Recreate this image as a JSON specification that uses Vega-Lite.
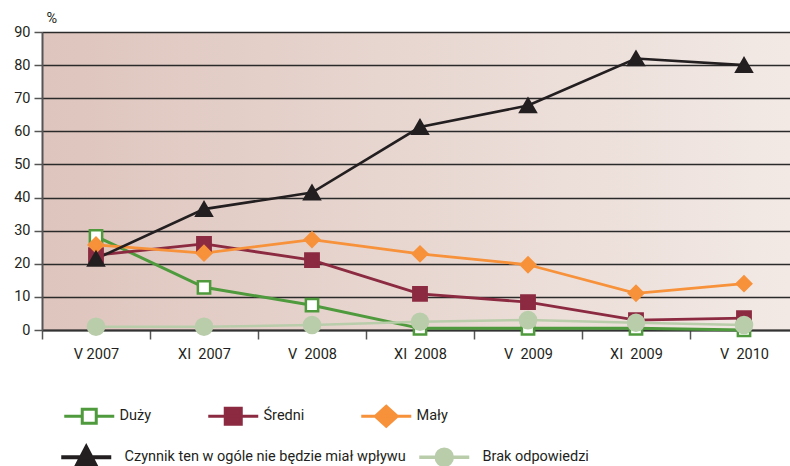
{
  "$schema": "https://vega.github.io/schema/vega-lite/v6.json",
  "width": 748,
  "height": 298,
  "autosize": {"type": "none"},
  "padding": {"left": 42, "top": 32, "right": 0, "bottom": 136},
  "background": "white",
  "config": {
    "font": "Roboto",
    "view": {
      "stroke": null,
      "fill": {"gradient": "linear", "x1": 0, "y1": 0, "x2": 1, "y2": 0,
        "stops": [{"offset": 0, "color": "#dec5bd"}, {"offset": 1, "color": "#f2e9e5"}]}
    },
    "axis": {"labelFont": "Roboto", "labelFontSize": 14.5, "labelColor": "#231f20", "titleFont": "Roboto"},
    "legend": {"labelFont": "Roboto"}
  },
  "data": {"values": [
    {"period": "V 2007", "series": "Duży", "value": 28.3},
    {"period": "XI 2007", "series": "Duży", "value": 12.9},
    {"period": "V 2008", "series": "Duży", "value": 7.5},
    {"period": "XI 2008", "series": "Duży", "value": 0.5},
    {"period": "V 2009", "series": "Duży", "value": 0.5},
    {"period": "XI 2009", "series": "Duży", "value": 0.5},
    {"period": "V 2010", "series": "Duży", "value": 0},
    {"period": "V 2007", "series": "Średni", "value": 22.6},
    {"period": "XI 2007", "series": "Średni", "value": 26},
    {"period": "V 2008", "series": "Średni", "value": 21.1},
    {"period": "XI 2008", "series": "Średni", "value": 10.9},
    {"period": "V 2009", "series": "Średni", "value": 8.4},
    {"period": "XI 2009", "series": "Średni", "value": 3},
    {"period": "V 2010", "series": "Średni", "value": 3.6},
    {"period": "V 2007", "series": "Mały", "value": 25.7},
    {"period": "XI 2007", "series": "Mały", "value": 23.2},
    {"period": "V 2008", "series": "Mały", "value": 27.3},
    {"period": "XI 2008", "series": "Mały", "value": 23},
    {"period": "V 2009", "series": "Mały", "value": 19.7},
    {"period": "XI 2009", "series": "Mały", "value": 11.1},
    {"period": "V 2010", "series": "Mały", "value": 14},
    {"period": "V 2007", "series": "Czynnik ten w ogóle nie będzie miał wpływu", "value": 21.5},
    {"period": "XI 2007", "series": "Czynnik ten w ogóle nie będzie miał wpływu", "value": 36.5},
    {"period": "V 2008", "series": "Czynnik ten w ogóle nie będzie miał wpływu", "value": 41.5},
    {"period": "XI 2008", "series": "Czynnik ten w ogóle nie będzie miał wpływu", "value": 61.3},
    {"period": "V 2009", "series": "Czynnik ten w ogóle nie będzie miał wpływu", "value": 67.8},
    {"period": "XI 2009", "series": "Czynnik ten w ogóle nie będzie miał wpływu", "value": 82},
    {"period": "V 2010", "series": "Czynnik ten w ogóle nie będzie miał wpływu", "value": 80},
    {"period": "V 2007", "series": "Brak odpowiedzi", "value": 1},
    {"period": "XI 2007", "series": "Brak odpowiedzi", "value": 1},
    {"period": "V 2008", "series": "Brak odpowiedzi", "value": 1.5},
    {"period": "XI 2008", "series": "Brak odpowiedzi", "value": 2.5},
    {"period": "V 2009", "series": "Brak odpowiedzi", "value": 3},
    {"period": "XI 2009", "series": "Brak odpowiedzi", "value": 2.2},
    {"period": "V 2010", "series": "Brak odpowiedzi", "value": 1.5}
  ]},
  "encoding": {
    "x": {"field": "period", "type": "ordinal",
      "sort": ["V 2007", "XI 2007", "V 2008", "XI 2008", "V 2009", "XI 2009", "V 2010"],
      "scale": {"type": "band", "range": [0, 756], "paddingInner": 0, "paddingOuter": 0},
      "axis": {"title": null, "labelAngle": 0, "tickBand": "extent", "tickSize": 9, "tickColor": "#555", "tickWidth": 1.5,
        "domainColor": "#333", "domainWidth": 2, "labelPadding": 8, "grid": false,
        "labelExpr": "datum.label === 'V 2007' ? datum.label : replace(datum.label, ' ', '\u00a0 ')"}},
    "y": {"field": "value", "type": "quantitative",
      "scale": {"domain": [0, 90], "nice": false},
      "axis": {"title": "%", "titleAngle": 0, "titleAlign": "left", "titleBaseline": "middle", "titleX": 4, "titleY": -14,
        "titleFontSize": 14.5, "titleFontWeight": "normal", "titleColor": "#231f20",
        "values": [0, 10, 20, 30, 40, 50, 60, 70, 80, 90], "grid": true, "gridColor": "#2a2a2a", "gridWidth": 1.5,
        "domainColor": "#555", "domainWidth": 2, "tickSize": 8, "tickColor": "#555", "tickWidth": 1.5, "labelPadding": 4}}
  },
  "resolve": {"scale": {"color": "independent"}, "legend": {"color": "independent"}},
  "layer": [
    {
      "mark": {"type": "line"},
      "encoding": {
        "color": {"field": "series", "type": "nominal",
          "scale": {"domain": ["Duży", "Średni", "Mały", "Czynnik ten w ogóle nie będzie miał wpływu", "Brak odpowiedzi"],
            "range": ["#4e9a3c", "#8b2a40", "#f7913a", "#231f20", "#b9cdab"]},
          "legend": {"values": ["Duży", "Średni", "Mały"],
            "orient": "none", "legendX": 40, "legendY": 377, "direction": "horizontal", "gridAlign": "none",
            "columnPadding": 50, "title": null, "padding": 0, "symbolSize": 1600, "symbolStrokeWidth": 3,
            "labelFontSize": 14.5, "labelOffset": 23, "labelColor": "#231f20", "labelLimit": 500,
            "encode": {"symbols": {"update": {
              "shape": {"signal": "datum.value === 'Duży' ? 'M-1.25,0H-0.35M0.35,0H1.25M-0.35,-0.35H0.35V0.35H-0.35Z' : datum.value === 'Średni' ? 'M-1.25,0H1.25M-0.4,-0.4H0.4V0.4H-0.4Z' : 'M-1.25,0H1.25M-0.55,0L0,-0.5L0.55,0L0,0.5Z'"},
              "fill": {"signal": "datum.value === 'Duży' ? 'white' : datum.value === 'Średni' ? '#8b2a40' : '#f7913a'"},
              "stroke": {"signal": "datum.value === 'Duży' ? '#4e9a3c' : datum.value === 'Średni' ? '#8b2a40' : '#f7913a'"},
              "strokeWidth": {"signal": "datum.value === 'Duży' ? 3 : 3"},
              "opacity": {"value": 1}
            }}}}},
        "strokeWidth": {"field": "series", "type": "nominal",
          "scale": {"domain": ["Duży", "Średni", "Mały", "Czynnik ten w ogóle nie będzie miał wpływu", "Brak odpowiedzi"],
            "range": [3, 2.5, 2.5, 2.5, 3.5]}, "legend": null}
      }
    },
    {
      "mark": {"type": "point", "filled": false, "opacity": 1},
      "encoding": {
        "shape": {"field": "series", "type": "nominal",
          "scale": {"domain": ["Duży", "Średni", "Mały", "Czynnik ten w ogóle nie będzie miał wpływu", "Brak odpowiedzi"],
            "range": ["square", "square", "diamond", "triangle-up", "circle"]}, "legend": null},
        "fill": {"field": "series", "type": "nominal",
          "scale": {"domain": ["Duży", "Średni", "Mały", "Czynnik ten w ogóle nie będzie miał wpływu", "Brak odpowiedzi"],
            "range": ["#ffffff", "#8b2a40", "#f7913a", "#231f20", "#b9cdab"]}, "legend": null},
        "stroke": {"field": "series", "type": "nominal",
          "scale": {"domain": ["Duży", "Średni", "Mały", "Czynnik ten w ogóle nie będzie miał wpływu", "Brak odpowiedzi"],
            "range": ["#4e9a3c", "#8b2a40", "#f7913a", "#231f20", "#b9cdab"]}, "legend": null},
        "size": {"field": "series", "type": "nominal",
          "scale": {"domain": ["Duży", "Średni", "Mały", "Czynnik ten w ogóle nie będzie miał wpływu", "Brak odpowiedzi"],
            "range": [150, 260, 340, 380, 210]}, "legend": null},
        "strokeWidth": {"value": 2.5}
      }
    },
    {
      "mark": {"type": "line", "opacity": 0},
      "encoding": {
        "color": {"field": "series", "type": "nominal",
          "scale": {"domain": ["Czynnik ten w ogóle nie będzie miał wpływu", "Brak odpowiedzi", "Duży", "Średni", "Mały"],
            "range": ["#231f20", "#b9cdab", "#4e9a3c", "#8b2a40", "#f7913a"]},
          "legend": {"values": ["Czynnik ten w ogóle nie będzie miał wpływu", "Brak odpowiedzi"],
            "orient": "none", "legendX": 37, "legendY": 418, "direction": "horizontal", "gridAlign": "none",
            "columnPadding": 6, "title": null, "padding": 0, "symbolSize": 1600, "symbolStrokeWidth": 3,
            "labelFontSize": 14.5, "labelOffset": 31, "labelColor": "#231f20", "labelLimit": 500,
            "encode": {"symbols": {"update": {
              "shape": {"signal": "datum.value === 'Brak odpowiedzi' ? 'M-1.25,0H1.25M0.4,0A0.4,0.4 0 1 1 -0.4,0A0.4,0.4 0 1 1 0.4,0Z' : 'M-1.25,0H1.25M-0.52,0.5L0,-0.5L0.52,0.5Z'"},
              "fill": {"signal": "datum.value === 'Brak odpowiedzi' ? '#b9cdab' : '#231f20'"},
              "stroke": {"signal": "datum.value === 'Brak odpowiedzi' ? '#b9cdab' : '#231f20'"},
              "strokeWidth": {"signal": "datum.value === 'Brak odpowiedzi' ? 3.5 : 4"},
              "opacity": {"value": 1}
            }}}}}
      }
    }
  ]
}
